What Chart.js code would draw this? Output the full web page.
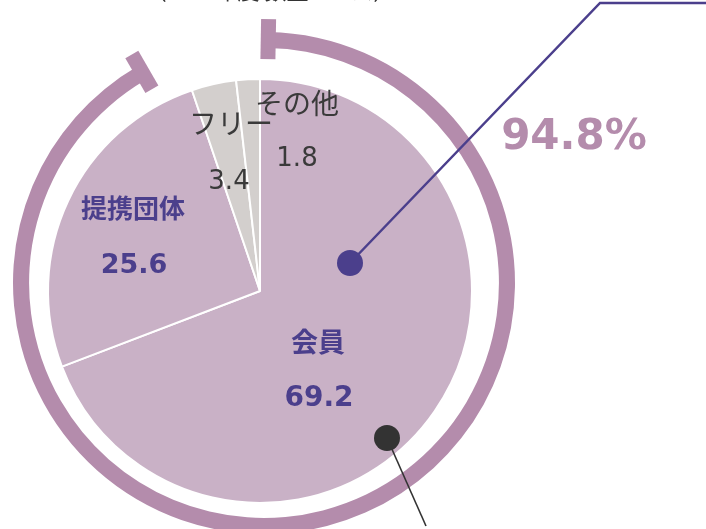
<!DOCTYPE html>
<html><head><meta charset="utf-8">
<script src="https://cdn.jsdelivr.net/npm/chart.js@4/dist/chart.umd.min.js"></script>
<style>
html,body{margin:0;padding:0;background:#fff;}
#wrap{position:relative;width:706px;height:529px;overflow:hidden;background:#fff;}
canvas{position:absolute;left:0;top:0;}
#sub{position:absolute;left:0;width:540px;text-align:center;top:-27px;font:22px "Noto Sans CJK JP";color:#333;white-space:nowrap;}
</style></head><body>
<div id="wrap">
<canvas id="ring" width="706" height="529"></canvas>
<canvas id="pie" width="706" height="529"></canvas>
<div id="sub">（2013年度 数量ベース）</div>
</div>
<script>
// ---- data ----
const categories = ['会員', '提携団体', 'フリー', 'その他'];
const shares = [69.2, 25.6, 3.4, 1.8];
const shareLabels = ['69.2', '25.6', '3.4', '1.8'];
const ringValues = [94.8, 5.2];
const ringLabel = '94.8%';

// ---- styles ----
const PURPLE = '#4b3f8c';
const RING = '#b48cac';
const PIE_MAIN = '#c9b1c6';
const PIE_GRAY = '#d3cfcd';
const DARK = '#3a3a3a';

const labelStyle = [
  {name:[58,51], val:[59,108], color:PURPLE, nameFont:'bold 27px "Noto Sans CJK JP"', valFont:'bold 28px "DejaVu Sans"'},
  {name:[-127,-83], val:[-126,-25], color:PURPLE, nameFont:'bold 26px "Noto Sans CJK JP"', valFont:'bold 27px "DejaVu Sans"'},
  {name:[-29,-168], val:[-31,-109], color:DARK, nameFont:'28px "Noto Sans CJK JP"', valFont:'26px "DejaVu Sans"'},
  {name:[37,-188], val:[37,-132], color:DARK, nameFont:'28px "Noto Sans CJK JP"', valFont:'26px "DejaVu Sans"'}
];

const ringCaps = {
  id: 'ringCaps',
  afterDatasetsDraw(chart) {
    const arc = chart.getDatasetMeta(0).data[0];
    const ctx = chart.ctx;
    const rIn = arc.innerRadius - 11, rOut = arc.outerRadius + 13;
    ctx.save();
    ctx.strokeStyle = RING;
    ctx.lineWidth = 15;
    ctx.lineCap = 'butt';
    [arc.startAngle, arc.endAngle].forEach(a => {
      ctx.beginPath();
      ctx.moveTo(arc.x + Math.cos(a) * rIn, arc.y + Math.sin(a) * rIn);
      ctx.lineTo(arc.x + Math.cos(a) * rOut, arc.y + Math.sin(a) * rOut);
      ctx.stroke();
    });
    ctx.restore();
  }
};

new Chart(document.getElementById('ring'), {
  type: 'doughnut',
  data: { labels: ['会員+提携団体', ''], datasets: [{
    data: ringValues, backgroundColor: [RING, 'rgba(0,0,0,0)'], borderWidth: 0, clip: false
  }]},
  options: {
    responsive: false, animation: false,
    cutout: '93.6%', radius: 251, rotation: 1, circumference: 347,
    layout: { padding: { left: 60, right: 238, top: 60, bottom: 23 } },
    plugins: { legend: { display: false }, tooltip: { enabled: false } }
  },
  plugins: [ringCaps]
});

const pieText = {
  id: 'pieText',
  afterDatasetsDraw(chart) {
    const arc = chart.getDatasetMeta(0).data[0];
    const cx = arc.x, cy = arc.y;
    const ctx = chart.ctx;
    ctx.save();
    ctx.textAlign = 'center';
    ctx.textBaseline = 'middle';
    categories.forEach((c, i) => {
      const s = labelStyle[i];
      ctx.fillStyle = s.color;
      ctx.font = s.nameFont;
      ctx.fillText(c, cx + s.name[0], cy + s.name[1]);
      ctx.font = s.valFont;
      ctx.fillText(shareLabels[i], cx + s.val[0], cy + s.val[1]);
    });
    ctx.fillStyle = RING;
    ctx.font = 'bold 42px "DejaVu Sans"';
    ctx.fillText(ringLabel, cx + 314, cy - 153);

    // callouts
    ctx.strokeStyle = PURPLE;
    ctx.lineWidth = 2.5;
    ctx.beginPath();
    ctx.moveTo(cx + 90, cy - 28);
    ctx.lineTo(cx + 340, cy - 288);
    ctx.lineTo(cx + 450, cy - 288);
    ctx.stroke();
    ctx.fillStyle = PURPLE;
    ctx.beginPath(); ctx.arc(cx + 90, cy - 28, 13, 0, Math.PI * 2); ctx.fill();

    ctx.strokeStyle = '#333';
    ctx.lineWidth = 1.6;
    ctx.beginPath();
    ctx.moveTo(cx + 127, cy + 147);
    ctx.lineTo(cx + 166, cy + 235);
    ctx.stroke();
    ctx.fillStyle = '#333';
    ctx.beginPath(); ctx.arc(cx + 127, cy + 147, 13, 0, Math.PI * 2); ctx.fill();
    ctx.restore();
  }
};

new Chart(document.getElementById('pie'), {
  type: 'pie',
  data: { labels: categories, datasets: [{
    data: shares,
    backgroundColor: [PIE_MAIN, PIE_MAIN, PIE_GRAY, PIE_GRAY],
    borderColor: '#ffffff', borderWidth: 2, clip: false
  }]},
  options: {
    responsive: false, animation: false, radius: 212,
    layout: { padding: { left: 48, right: 234, top: 79, bottom: 26 } },
    plugins: { legend: { display: false }, tooltip: { enabled: false } }
  },
  plugins: [pieText]
});
</script>
</body></html>
